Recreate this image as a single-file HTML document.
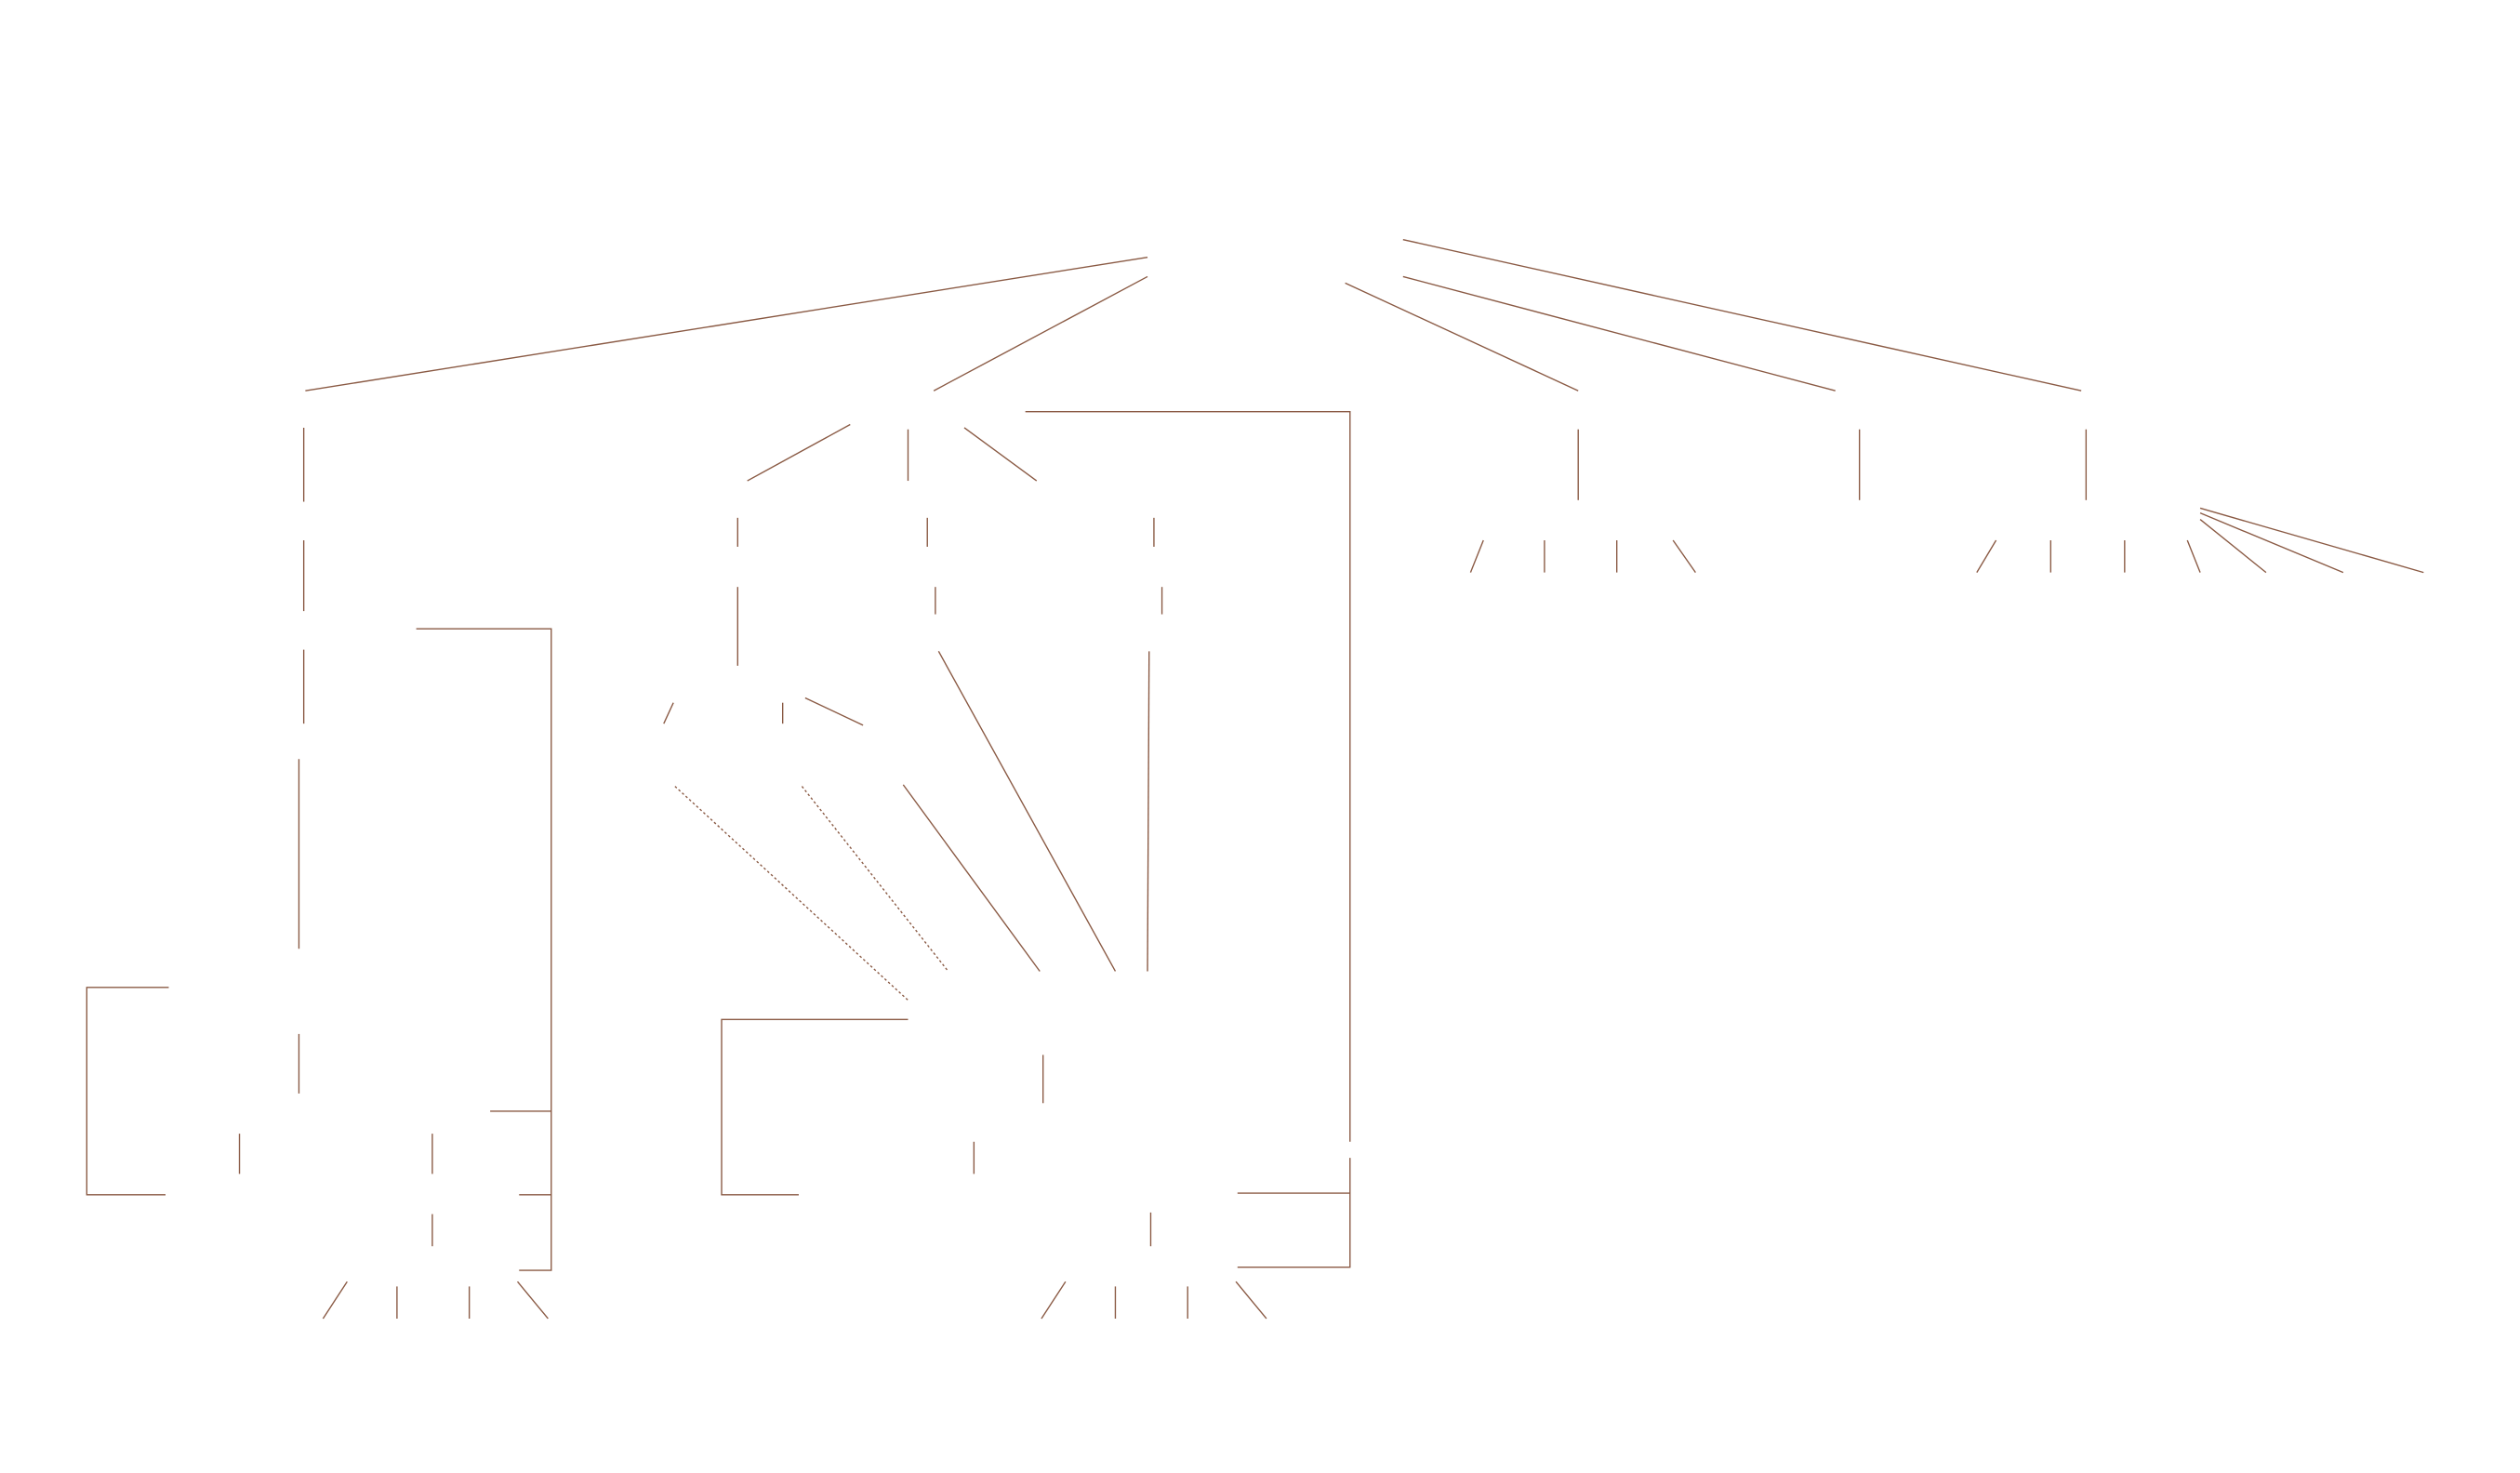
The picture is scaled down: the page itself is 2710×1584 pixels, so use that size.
<!DOCTYPE html>
<html><head><meta charset="utf-8"><style>html,body{margin:0;padding:0;background:#fff;}svg{display:block}</style></head>
<body>
<svg width="2710" height="1584" viewBox="0 0 1568 916" preserveAspectRatio="none" xmlns="http://www.w3.org/2000/svg">
<g stroke="#8a5a44" stroke-width="0.8" fill="none">
<line x1="714" y1="160" x2="190" y2="243"/>
<line x1="714" y1="172" x2="581" y2="243"/>
<line x1="837" y1="176" x2="982" y2="243"/>
<line x1="873" y1="172" x2="1142" y2="243"/>
<line x1="873" y1="149" x2="1295" y2="243"/>
<polyline points="638,256 840,256 840,710"/>
<polyline points="840,720 840,788 770,788"/>
<line x1="770" y1="742" x2="840" y2="742"/>
<line x1="189" y1="266" x2="189" y2="312"/>
<line x1="189" y1="336" x2="189" y2="380"/>
<line x1="189" y1="404" x2="189" y2="450"/>
<line x1="186" y1="472" x2="186" y2="590"/>
<line x1="186" y1="643" x2="186" y2="680"/>
<polyline points="259,391 343,391 343,790 323,790"/>
<line x1="305" y1="691" x2="343" y2="691"/>
<line x1="323" y1="743" x2="343" y2="743"/>
<polyline points="105,614 54,614 54,743 103,743"/>
<line x1="149" y1="705" x2="149" y2="730"/>
<line x1="269" y1="705" x2="269" y2="730"/>
<line x1="269" y1="755" x2="269" y2="775"/>
<line x1="216" y1="797" x2="201" y2="820"/>
<line x1="247" y1="800" x2="247" y2="820"/>
<line x1="292" y1="800" x2="292" y2="820"/>
<line x1="322" y1="797" x2="341" y2="820"/>
<line x1="663" y1="797" x2="648" y2="820"/>
<line x1="694" y1="800" x2="694" y2="820"/>
<line x1="739" y1="800" x2="739" y2="820"/>
<line x1="769" y1="797" x2="788" y2="820"/>
<line x1="529" y1="264" x2="465" y2="299"/>
<line x1="565" y1="267" x2="565" y2="299"/>
<line x1="600" y1="266" x2="645" y2="299"/>
<line x1="459" y1="322" x2="459" y2="340"/>
<line x1="459" y1="365" x2="459" y2="414"/>
<line x1="577" y1="322" x2="577" y2="340"/>
<line x1="582" y1="365" x2="582" y2="382"/>
<line x1="718" y1="322" x2="718" y2="340"/>
<line x1="723" y1="365" x2="723" y2="382"/>
<line x1="419" y1="437" x2="413" y2="450"/>
<line x1="487" y1="437" x2="487" y2="450"/>
<line x1="501" y1="434" x2="537" y2="451"/>
<line x1="420" y1="489" x2="565" y2="622" stroke-dasharray="1.5,1.5"/>
<line x1="499" y1="489" x2="590" y2="604" stroke-dasharray="1.5,1.5"/>
<line x1="562" y1="488" x2="647" y2="604"/>
<line x1="584" y1="405" x2="694" y2="604"/>
<line x1="715" y1="405" x2="714" y2="604"/>
<polyline points="565,634 449,634 449,743 497,743"/>
<line x1="649" y1="656" x2="649" y2="686"/>
<line x1="606" y1="710" x2="606" y2="730"/>
<line x1="716" y1="754" x2="716" y2="775"/>
<line x1="982" y1="267" x2="982" y2="311"/>
<line x1="1157" y1="267" x2="1157" y2="311"/>
<line x1="1298" y1="267" x2="1298" y2="311"/>
<line x1="923" y1="336" x2="915" y2="356"/>
<line x1="961" y1="336" x2="961" y2="356"/>
<line x1="1006" y1="336" x2="1006" y2="356"/>
<line x1="1041" y1="336" x2="1055" y2="356"/>
<line x1="1242" y1="336" x2="1230" y2="356"/>
<line x1="1276" y1="336" x2="1276" y2="356"/>
<line x1="1322" y1="336" x2="1322" y2="356"/>
<line x1="1361" y1="336" x2="1369" y2="356"/>
<line x1="1369" y1="316" x2="1508" y2="356"/>
<line x1="1369" y1="319" x2="1458" y2="356"/>
<line x1="1369" y1="323" x2="1410" y2="356"/>
</g>
</svg>
</body></html>
